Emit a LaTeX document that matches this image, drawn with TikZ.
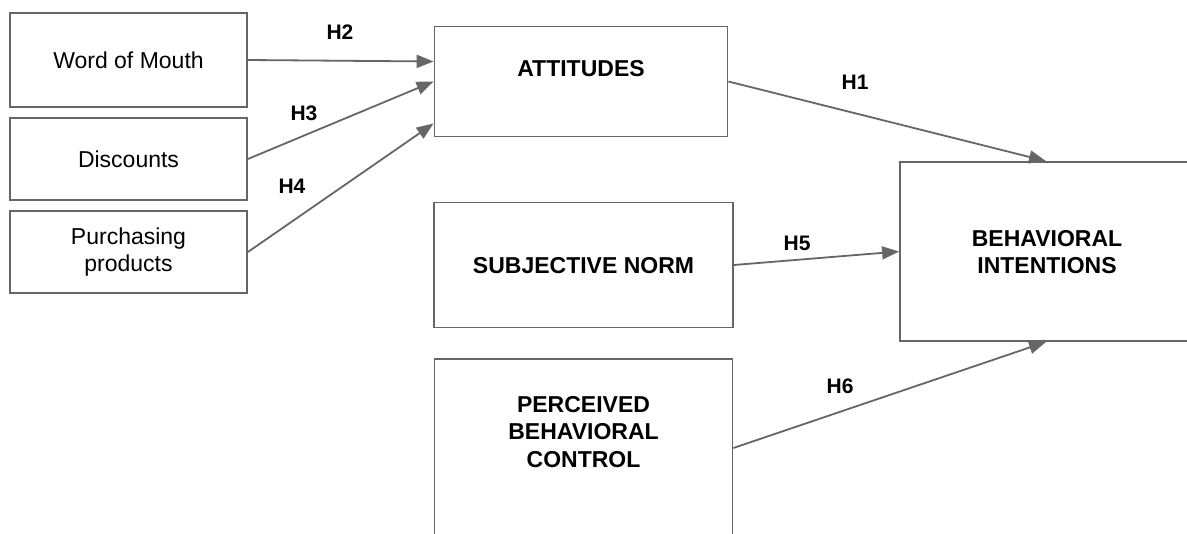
\documentclass[tikz,border=0pt]{standalone}
\usepackage{fontspec}
\setmainfont{Liberation Sans}
\usetikzlibrary{arrows.meta,positioning}
\definecolor{linegray}{HTML}{666666}

\begin{document}
\begin{tikzpicture}[
    x=0.5pt,y=-0.5pt,
    >={Triangle[length=8.5pt,width=6.5pt]},
    every node/.style={font=\fontsize{11.5}{13.5}\selectfont, align=center},
    box/.style={draw=linegray, line width=0.9pt, inner sep=0pt},
    caps/.style={font=\fontsize{11.5}{13.8}\selectfont\bfseries},
    hyp/.style={font=\fontsize{10.5}{12}\selectfont\bfseries},
    link/.style={->, draw=linegray, line width=0.9pt}
]

\clip (0,0) rectangle (1187,534);

% antecedents
\node[box, minimum width=118.5pt, minimum height=47pt] (wom)   at (128.5,60)  {Word of Mouth};
\node[box, minimum width=118.5pt, minimum height=41pt] (disc)  at (128.5,159) {Discounts};
\node[box, minimum width=118.5pt, minimum height=41pt] (purch) at (128.5,252) {Purchasing\\products};

% TPB constructs
\node[box, minimum width=146.5pt, minimum height=55pt] (att) at (581,81.5) {};
\node[caps] (atttext) at (581,69) {ATTITUDES};

\node[box, minimum width=149.5pt, minimum height=62.5pt] (sn) at (583.5,265) {};
\node[caps] (sntext) at (583.5,266) {SUBJECTIVE NORM};

\node[box, minimum width=149pt, minimum height=89pt] (pbc) at (583.5,448) {};
\node[caps] (pbctext) at (583.5,432) {PERCEIVED\\BEHAVIORAL\\CONTROL};

\node[box, minimum width=146pt, minimum height=89.5pt] (bi) at (1046,251.5) {};
\node[caps] (bitext) at (1047,252) {BEHAVIORAL\\INTENTIONS};

% hypotheses
\draw[link] (wom.east)   -- ([yshift=10pt]att.west);
\draw[link] (disc.east)  -- (att.west);
\draw[link] (purch.east) -- ([yshift=-21pt]att.west);
\draw[link] (att.east)   -- (bi.north);
\draw[link] (sn.east)    -- (bi.west);
\draw[link] (pbc.east)   -- (bi.south);

% labels
\node[hyp] (h2) at (340,32)  {H2};
\node[hyp] (h3) at (304,113) {H3};
\node[hyp] (h4) at (292,186) {H4};
\node[hyp] (h1) at (855,82)  {H1};
\node[hyp] (h5) at (797,243) {H5};
\node[hyp] (h6) at (840,386) {H6};

\end{tikzpicture}
\end{document}
